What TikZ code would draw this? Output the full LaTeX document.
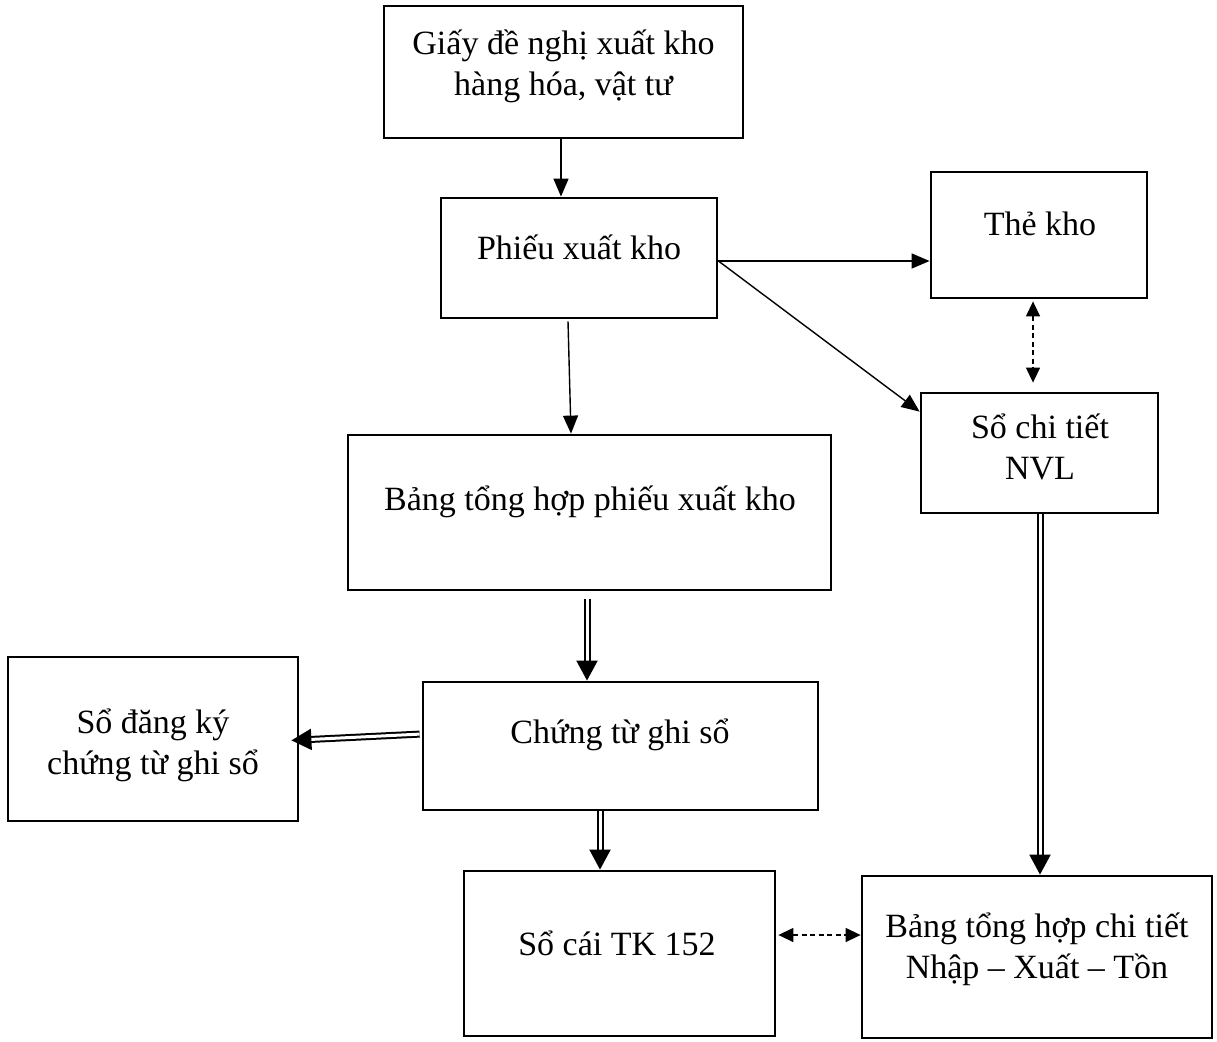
\documentclass[tikz,border=0pt]{standalone}
\usepackage{fontspec}
\setmainfont{Liberation Serif}
\usetikzlibrary{arrows.meta,calc}

\tikzset{
  box/.style={draw, line width=2.8pt, rectangle, inner sep=0pt},
  lbl/.style={align=center, inner sep=0pt, font=\fontsize{34}{41}\selectfont},
  flow/.style={line width=1.4pt, -{Triangle[length=18pt,width=15pt]}},
  link/.style={line width=1.4pt, dash pattern=on 5pt off 3.5pt,
    {Triangle[length=15pt,width=14pt]}-{Triangle[length=15pt,width=14pt]}},
  post/.style={line width=2pt, double, double distance=3pt,
    -{Triangle[length=20pt,width=21pt]}}
}

\begin{document}
\begin{tikzpicture}[x=1pt,y=-1pt]
\useasboundingbox (0,0) rectangle (1217,1041);

% boxes
\node[box, minimum width=359pt, minimum height=132pt] (n1) at (563.5,72) {};
\node[box, minimum width=276pt, minimum height=120pt] (n2) at (579,258) {};
\node[box, minimum width=216pt, minimum height=126pt] (n3) at (1039,235) {};
\node[box, minimum width=237pt, minimum height=120pt] (n4) at (1039.5,453) {};
\node[box, minimum width=483pt, minimum height=155pt] (n5) at (589.5,512.5) {};
\node[box, minimum width=290pt, minimum height=164pt] (n6) at (153,739) {};
\node[box, minimum width=395pt, minimum height=128pt] (n7) at (620.5,746) {};
\node[box, minimum width=311pt, minimum height=165pt] (n8) at (619.5,953.5) {};
\node[box, minimum width=350pt, minimum height=162pt] (n9) at (1037,957) {};

% captions
\node[lbl] (t1) at (563.5,66) {Giấy đề nghị xuất kho\\hàng hóa, vật tư};
\node[lbl] (t2) at (579,247) {Phiếu xuất kho};
\node[lbl] (t3) at (1040,224) {Thẻ kho};
\node[lbl] (t4) at (1040,447) {Sổ chi tiết\\NVL};
\node[lbl] (t5) at (590,502) {Bảng tổng hợp phiếu xuất kho};
\node[lbl] (t6) at (153,745) {Sổ đăng ký\\chứng từ ghi sổ};
\node[lbl] (t7) at (620,735) {Chứng từ ghi sổ};
\node[lbl] (t8) at (617,943) {Sổ cái TK 152};
\node[lbl] (t9) at (1037,949) {Bảng tổng hợp chi tiết\\Nhập – Xuất – Tồn};

% single-line flows
\coordinate (c1) at ([yshift=-3pt]n2.east);
\draw[flow] ([xshift=-2.5pt]n1.south) -- ([xshift=-18pt]n2.north);
\draw[flow] ([xshift=-11pt,yshift=-2pt]n2.south) -- ([xshift=-18.5pt]n5.north);
\draw[flow] (c1) -- (c1 -| n3.west);
\draw[flow] (c1) -- ([yshift=-20pt]n4.north west);

% dashed two-way links
\draw[link, shorten <=2pt, shorten >=9pt] ([xshift=-6pt]n3.south) -- ([xshift=-6.5pt]n4.north);
\draw[link, shorten <=2pt] ([yshift=18.5pt]n8.east) -- ([yshift=22pt]n9.west);

% double-line postings
\draw[post, shorten <=8pt] ([xshift=-2.5pt]n5.south) -- ([xshift=-33.5pt]n7.north);
\draw[post, shorten >=-8pt, shorten <=2pt] ([yshift=12pt]n7.west) -- ([yshift=-1pt]n6.east);
\draw[post] ([xshift=-20.5pt]n7.south) -- ([xshift=-19.5pt]n8.north);
\draw[post] ([xshift=0.5pt]n4.south) -- ([xshift=3pt]n9.north);
\end{tikzpicture}
\end{document}
